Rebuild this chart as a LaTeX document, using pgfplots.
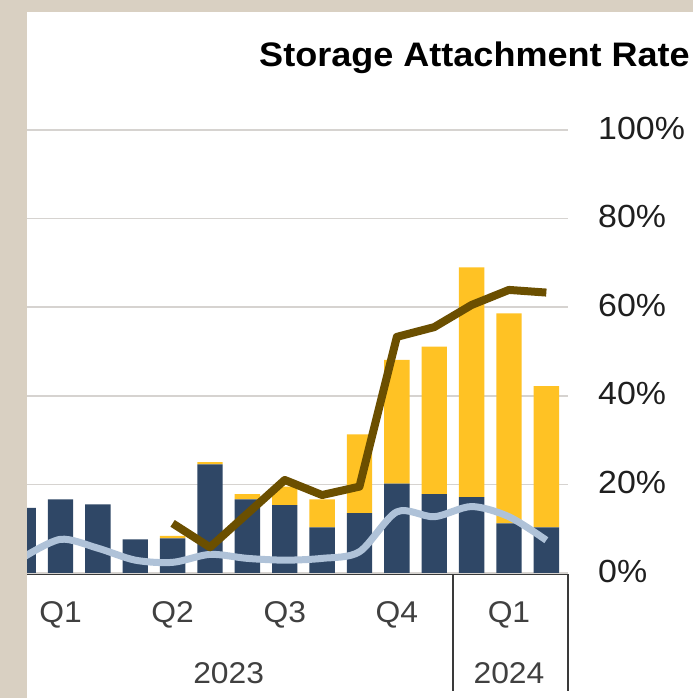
\documentclass[border=0pt]{standalone}
\usepackage{pgfplots}
\pgfplotsset{compat=1.18}
\usepackage{fontspec}
\setmainfont{Liberation Sans}[FakeStretch=1.06]
\definecolor{bgbeige}{HTML}{D9D0C2}
\definecolor{navybar}{HTML}{2F4766}
\definecolor{goldbar}{HTML}{FFC224}
\definecolor{brownline}{HTML}{6B4F00}
\definecolor{blueline}{HTML}{AFC2D8}
\definecolor{gridgray}{HTML}{D6D3D0}
\definecolor{axisgray}{HTML}{3A3A3A}
\definecolor{labelgray}{HTML}{404040}
\begin{document}
\begin{tikzpicture}[x=1bp,y=1bp]
\fill[bgbeige] (0,0) rectangle (693,698);
\fill[white] (27,0) rectangle (693,686);
\path[use as bounding box] (0,0) rectangle (693,698);
\node[anchor=base east, inner sep=0pt, font=\fontsize{34bp}{38bp}\selectfont\bfseries, text=black] at (690,631) {Storage Attachment Rate};
\begin{axis}[
  at={(27bp,125bp)}, anchor=south west,
  scale only axis, width=541bp, height=443bp,
  xmin=1.104, xmax=15.58, ymin=0, ymax=100,
  ybar stacked, bar width=0.68,
  clip mode=individual,
  axis x line*=bottom, axis y line*=right,
  axis line style={draw=none},
  major tick length=0pt,
  ytick={0,20,40,60,80,100},
  yticklabels={0\%,20\%,40\%,60\%,80\%,100\%},
  yticklabel style={anchor=west, xshift=30bp, yshift=2bp, inner sep=0pt, font=\fontsize{32bp}{36bp}\selectfont, text=black!88},
  ymajorgrids, grid style={draw=gridgray, line width=1.6bp},
  xtick={2,5,8,11,14}, xticklabels={Q1,Q2,Q3,Q4,Q1},
  xticklabel style={anchor=base, yshift=-50bp, inner sep=0pt, font=\fontsize{30bp}{36bp}\selectfont, text=labelgray},
]
\addplot[fill=navybar, draw=none] coordinates {(1,14.7) (2,16.6) (3,15.5) (4,7.6) (5,7.8) (6,24.5) (7,16.6) (8,15.3) (9,10.3) (10,13.5) (11,20.2) (12,17.8) (13,17.1) (14,11.2) (15,10.3)};
\addplot[fill=goldbar, draw=none] coordinates {(1,0) (2,0) (3,0) (4,0) (5,0.6) (6,0.5) (7,1.2) (8,4.2) (9,6.3) (10,17.8) (11,27.9) (12,33.3) (13,51.9) (14,47.4) (15,31.9)};
\draw[axisgray, line width=1.3bp] (axis cs:1.104,0) ++(0bp,-1.5bp) -- ++(541bp,0bp);
\draw[axisgray, line width=1.6bp] (axis cs:12.5,0) ++(0bp,-1.5bp) -- ++(0bp,-116.5bp);
\draw[axisgray, line width=1.6bp] (axis cs:15.58,0) ++(0bp,-1.5bp) -- ++(0bp,-116.5bp);
\node[anchor=base, inner sep=0pt, yshift=-110.5bp, font=\fontsize{30bp}{36bp}\selectfont, text=labelgray] at (axis cs:6.5,0) {2023};
\node[anchor=base, inner sep=0pt, yshift=-110.5bp, font=\fontsize{30bp}{36bp}\selectfont, text=labelgray] at (axis cs:14,0) {2024};
\end{axis}
\begin{axis}[
  at={(27bp,125bp)}, anchor=south west,
  scale only axis, width=541bp, height=443bp,
  xmin=1.104, xmax=15.58, ymin=0, ymax=100,
  hide axis,
]
\addplot[blueline, line width=7bp, smooth, line join=round] coordinates {(1,3.5) (2,7.6) (3,5.6) (4,2.9) (5,2.4) (6,4.2) (7,3.3) (8,2.9) (9,3.3) (10,4.8) (11,13.8) (12,12.7) (13,15.0) (14,12.7) (15,7.4)};
\addplot[brownline, line width=8bp, line join=round] coordinates {(5,11.2) (6,5.8) (7,13.4) (8,21.0) (9,17.6) (10,19.5) (11,53.3) (12,55.5) (13,60.5) (14,63.9) (15,63.3)};
\end{axis}
\end{tikzpicture}
\end{document}
